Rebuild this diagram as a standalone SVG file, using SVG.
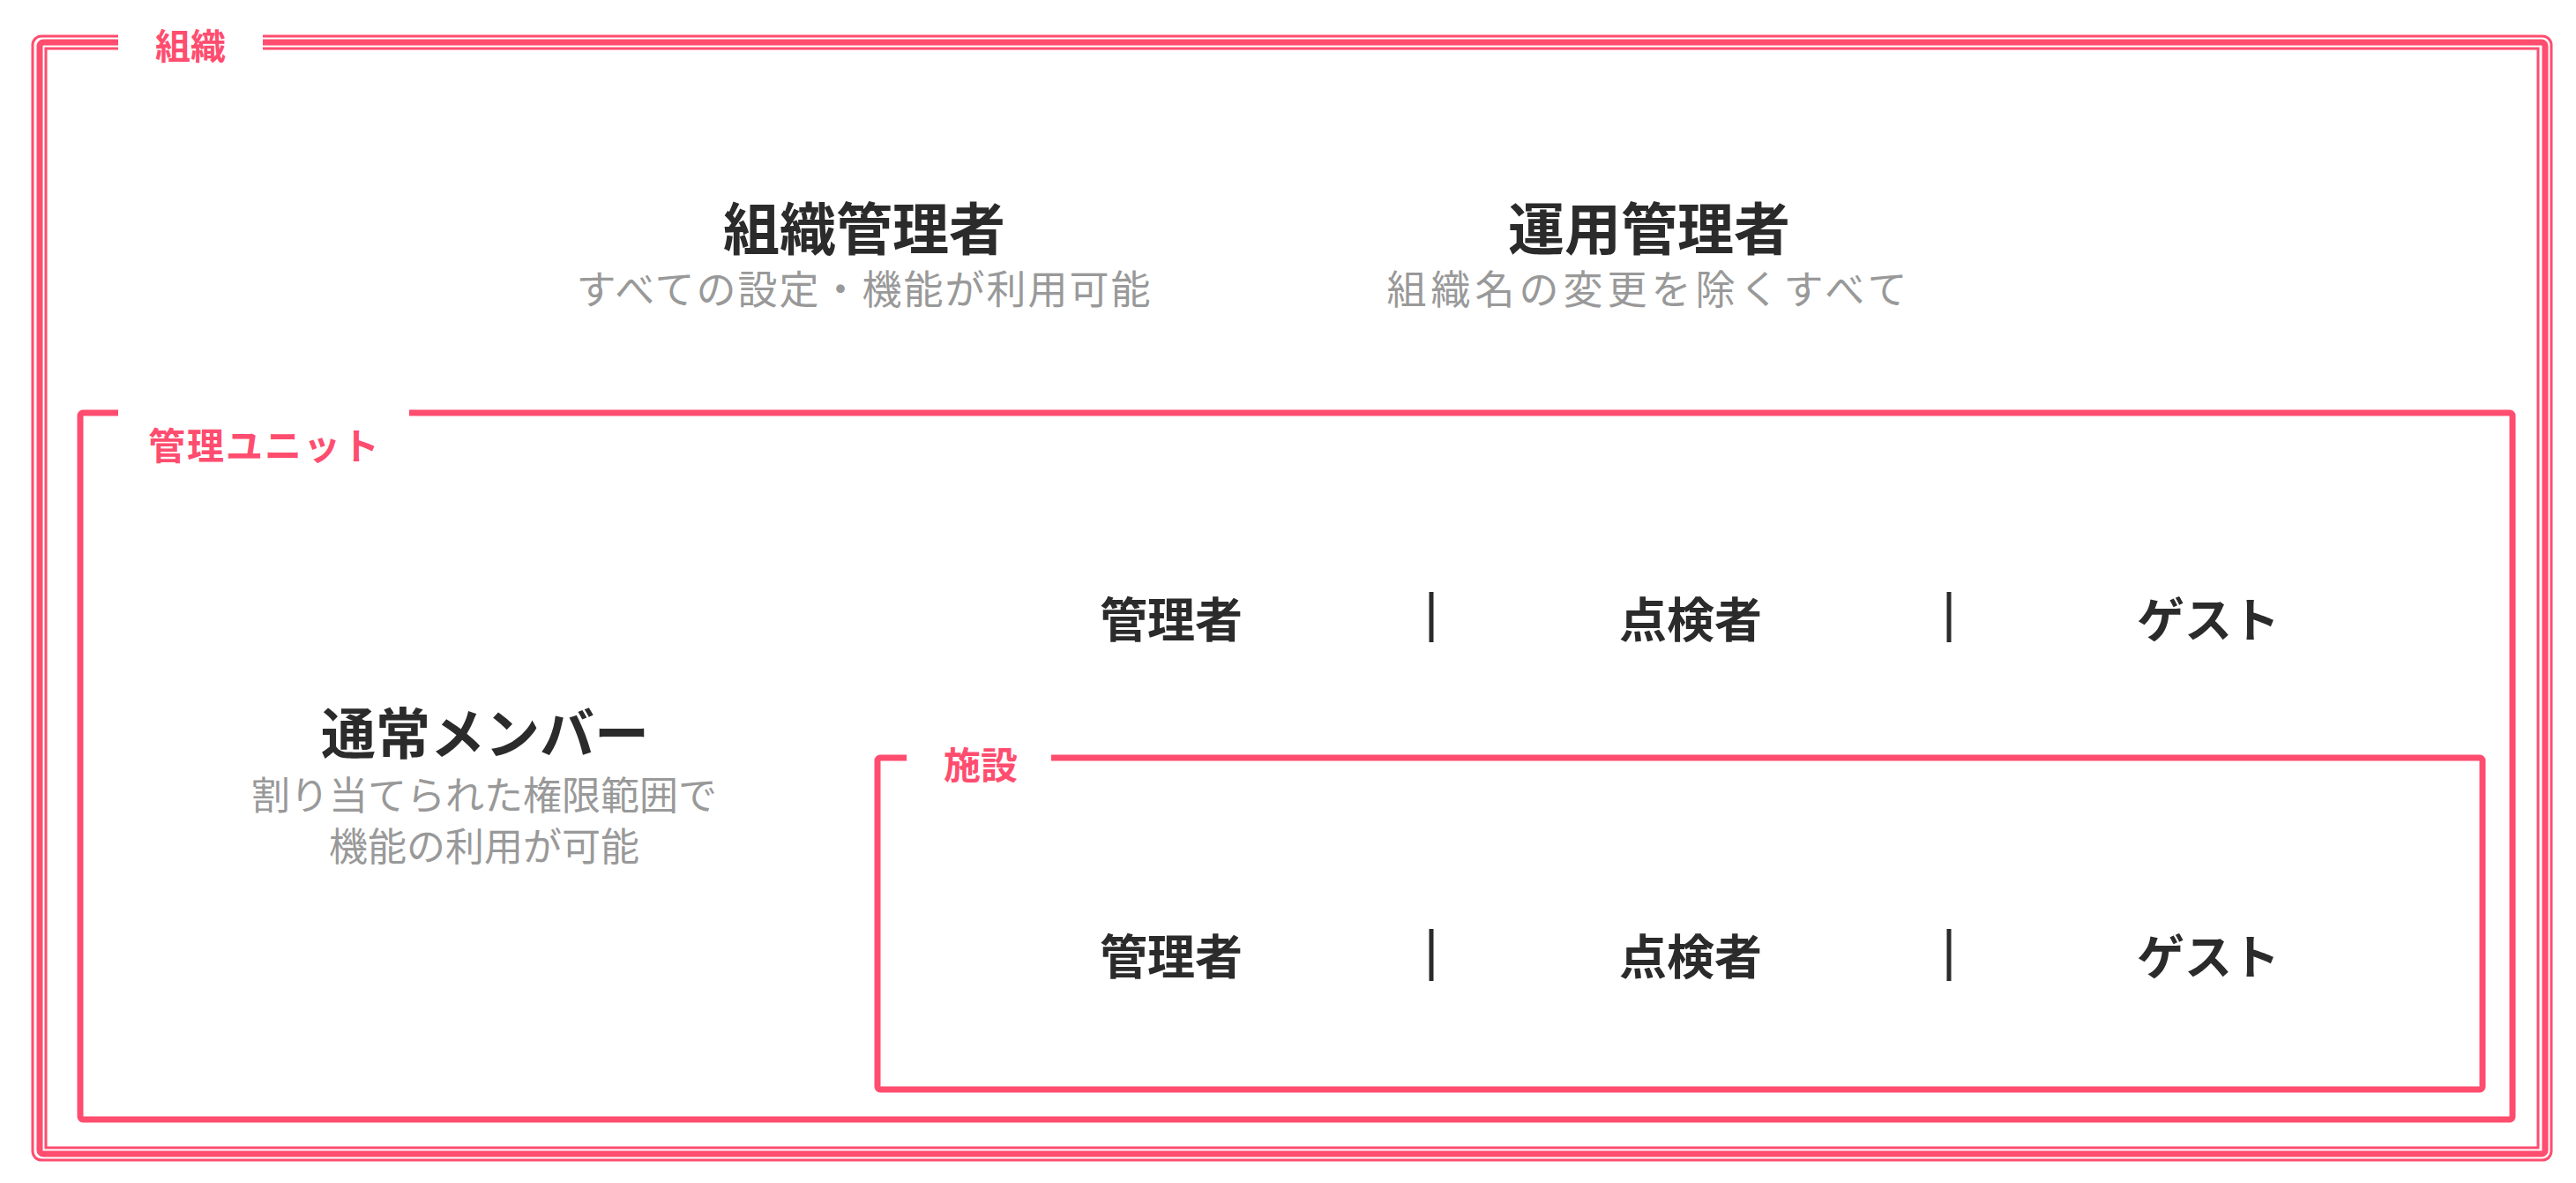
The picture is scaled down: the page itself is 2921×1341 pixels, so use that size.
<svg xmlns="http://www.w3.org/2000/svg" width="2921" height="1341" viewBox="0 0 2921 1341">
<style>
.b{fill:none;stroke:#FF4D6F}
.lbl{font-family:"Noto Sans CJK JP",sans-serif;font-weight:700;fill:#FF4D6F;text-anchor:middle}
.t{font-family:"Noto Sans CJK JP",sans-serif;font-weight:700;fill:#2b2b2b;text-anchor:middle}
.s{font-family:"Noto Sans CJK JP",sans-serif;fill:#999;text-anchor:middle}
.sep{stroke:#2b2b2b;stroke-width:5}
</style>
<rect width="2921" height="1341" fill="#fff"/>
<g id="org">
<rect class="b" x="37" y="41" width="2856" height="1274" rx="10" stroke-width="3"/>
<rect class="b" x="45" y="48" width="2841" height="1260" rx="4" stroke-width="7"/>
<rect class="b" x="52" y="55" width="2826" height="1246" stroke-width="3"/>
<rect x="134" y="30" width="164" height="40" fill="#fff"/>
<text class="lbl" x="216" y="67" font-size="40">組織</text>
</g>
<g id="org-admin">
<text class="t" x="980" y="283" font-size="64">組織管理者</text>
<text class="s" x="980" y="345" font-size="45" letter-spacing="2">すべての設定・機能が利用可能</text>
</g>
<g id="ops-admin">
<text class="t" x="1870" y="283" font-size="64">運用管理者</text>
<text class="s" x="1870" y="345" font-size="45" letter-spacing="5">組織名の変更を除くすべて</text>
</g>
<g id="unit">
<rect class="b" x="91" y="468" width="2758" height="801" rx="3" stroke-width="7"/>
<rect x="134" y="455" width="330" height="30" fill="#fff"/>
<text class="lbl" x="300" y="521" font-size="42" letter-spacing="2">管理ユニット</text>
</g>
<g id="member">
<text class="t" x="550" y="855" font-size="62">通常メンバー</text>
<text class="s" x="549" y="918" font-size="44">割り当てられた権限範囲で</text>
<text class="s" x="549" y="976" font-size="44">機能の利用が可能</text>
</g>
<g id="unit-roles">
<text class="t" x="1328" y="723" font-size="54">管理者</text>
<text class="t" x="1917" y="723" font-size="54">点検者</text>
<text class="t" x="2504" y="723" font-size="54">ゲスト</text>
</g>
<g id="facility">
<rect class="b" x="995" y="859" width="1820" height="376" rx="3" stroke-width="7"/>
<rect x="1028" y="850" width="164" height="20" fill="#fff"/>
<text class="lbl" x="1112" y="883" font-size="42">施設</text>
</g>
<g id="facility-roles">
<text class="t" x="1328" y="1105" font-size="54">管理者</text>
<text class="t" x="1917" y="1105" font-size="54">点検者</text>
<text class="t" x="2504" y="1105" font-size="54">ゲスト</text>
</g>
<g id="connectors">
<line class="sep" x1="1623" y1="671" x2="1623" y2="728"/>
<line class="sep" x1="2210" y1="671" x2="2210" y2="728"/>
<line class="sep" x1="1623" y1="1053" x2="1623" y2="1112"/>
<line class="sep" x1="2210" y1="1053" x2="2210" y2="1112"/>
</g>
</svg>
